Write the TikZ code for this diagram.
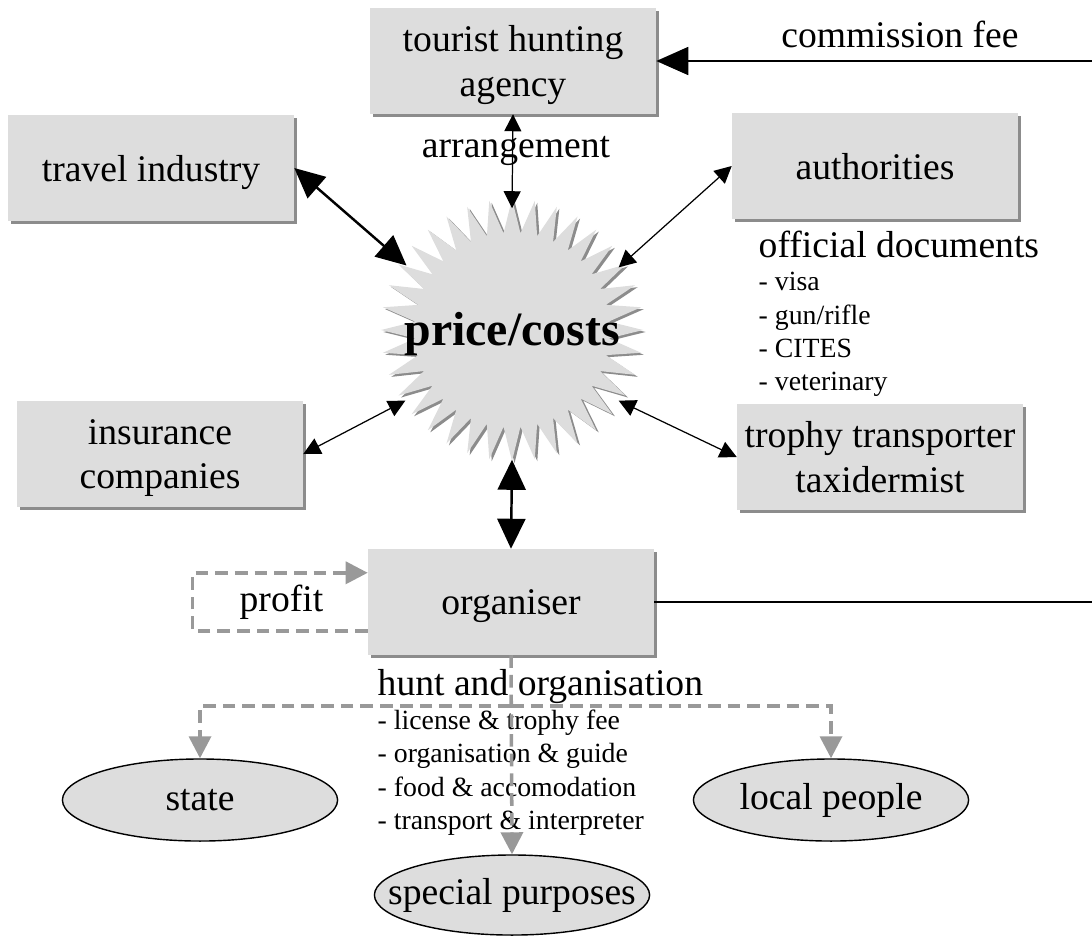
\documentclass[tikz,border=0pt]{standalone}
\usepackage{fontspec}
\setmainfont{Liberation Serif}
\usetikzlibrary{shapes,arrows.meta,calc,shadows,positioning}

\definecolor{boxgray}{RGB}{221,221,221}
\definecolor{shadegray}{RGB}{140,140,140}
\definecolor{flowgray}{RGB}{153,153,153}
\newcommand{\squeeze}[1]{\makebox[0pt]{#1}}

\begin{document}
\begin{tikzpicture}[x=0.01cm, y=-0.01cm,
    every node/.style={font=\fontsize{10.7}{12.6}\selectfont},
    box/.style={fill=boxgray, minimum width=2.85cm, minimum height=1.05cm, inner sep=2pt, align=center, text depth=0pt,
      drop shadow={shadow xshift=0.03cm, shadow yshift=-0.03cm, fill=shadegray, opacity=1}},
    spot/.style={ellipse, draw, fill=boxgray, line width=0.4pt, inner sep=0, minimum width=2.75cm, minimum height=0.82cm},
    listtext/.style={font=\fontsize{7.9}{9.5}\selectfont},
    heavy/.style={line width=0.7pt, {Triangle[length=0.3cm,width=0.28cm]}-{Triangle[length=0.3cm,width=0.28cm]}},
    light/.style={line width=0.35pt, {Triangle[length=0.17cm,width=0.17cm]}-{Triangle[length=0.17cm,width=0.17cm]}},
    flow/.style={flowgray, line width=1pt, dash pattern=on 3.6pt off 2pt, -{Triangle[length=0.22cm,width=0.22cm]}}]
  \useasboundingbox (0,0) rectangle (1092,936);
  \node[star, star points=36, star point ratio=1.35, minimum size=2.62cm, inner sep=0, fill=boxgray,
    drop shadow={shadow xshift=0.025cm, shadow yshift=-0.02cm, fill=shadegray, opacity=1}] (burst) at (512,330) {};
  \node[circle, minimum size=2.5cm, inner sep=0, font=\bfseries\fontsize{13.6}{16}\selectfont] (price) at (512,334) {price/costs};
  \node[box] (agency) at (513,61) {tourist hunting\\agency};
  \node[box] (travel) at (151,168) {travel industry};
  \node[box] (authorities) at (875,166) {authorities};
  \node[box] (insurance) at (160,454) {insurance\\companies};
  \node[box] (trophy) at (880,457) {trophy transporter\\taxidermist};
  \node[box] (organiser) at (511,602) {organiser};
  \node[spot] (state) at (200,800) {\squeeze{state}};
  \node[spot] (locals) at (831,800) {\squeeze{local people}};
  \node[spot, minimum height=0.8cm] (special) at (512,895) {\squeeze{special purposes}};
  \node[anchor=base] (arrlabel) at (516,157) {arrangement};
  \node[anchor=base] (feelabel) at (900,47) {commission fee};
  \node[left=0.32cm of organiser] (profit) {profit};
  \node[anchor=north west, align=left, inner sep=0, listtext] (docs) at (758,230)
    {{\fontsize{10.7}{12.6}\selectfont official documents}\\- visa\\- gun/rifle\\- CITES\\- veterinary};
  \node[anchor=north west, align=left, inner sep=0, listtext] (hunt) at (377,669)
    {{\fontsize{10.7}{12.6}\selectfont hunt and organisation}\\- license \& trophy fee\\- organisation \& guide\\- food \& accomodation\\- transport \& interpreter};
  \coordinate (feeend) at (1092,61);
  \coordinate (orgend) at (1092,602);
  \coordinate (split) at ($(organiser.south)+(0,51)$);
  \draw[heavy] (travel.east) -- (price.147);
  \draw[light] (agency.south) -- (price.north);
  \draw[light] (authorities.west) -- (price.32);
  \draw[light] (insurance.east) -- (price.212);
  \draw[light] (trophy.west) -- (price.328);
  \draw[heavy] (price.south) -- (organiser.north);
  \draw[line width=0.5pt, -{Triangle[length=0.32cm,width=0.28cm]}] (feeend) -- (agency.east);
  \draw[line width=0.5pt] (organiser.east) -- (orgend);
  \draw[flow] ($(organiser.south west)+(0,-24)$) -| ($(organiser.north west)+(-175,24)$) -- ($(organiser.north west)+(0,24)$);
  \draw[flow] (organiser.south) -- (special.north);
  \draw[flow] (split) -| (state.north);
  \draw[flow] (split) -| (locals.north);
\end{tikzpicture}
\end{document}
